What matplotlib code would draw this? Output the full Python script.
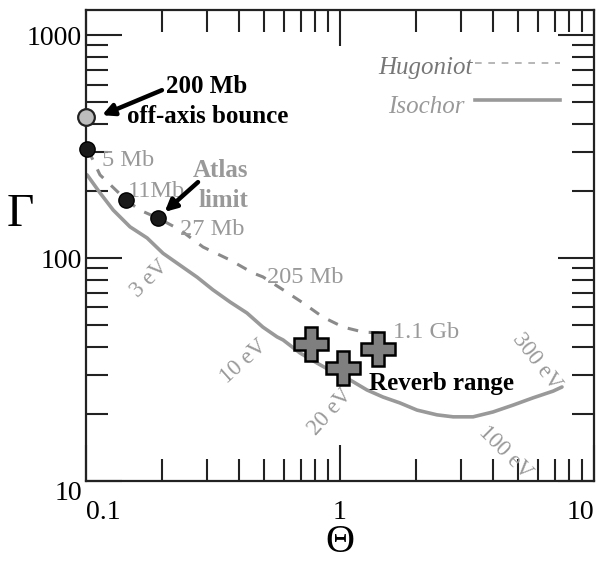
"""Gamma vs Theta plane: Hugoniot / Isochor curves with experiment markers."""

import matplotlib

matplotlib.use("Agg")

import matplotlib.pyplot as plt
from matplotlib.ticker import LogLocator, NullFormatter, FixedLocator, FixedFormatter

# ---------------------------------------------------------------------------
# Data
# ---------------------------------------------------------------------------

isochor_theta = [0.101, 0.1135, 0.128, 0.149, 0.174, 0.201, 0.234, 0.274, 0.316,
                 0.369, 0.430, 0.497, 0.565, 0.597, 0.696, 0.812, 0.939, 1.095,
                 1.277, 1.477, 1.72, 2.01, 2.41, 2.79, 3.34, 4.0, 4.8, 5.75,
                 6.9, 7.48]
isochor_gamma = [236, 196, 164, 138, 123, 105, 93, 82, 72, 63.5, 56.7, 49, 44.3,
                 42.9, 37.5, 33.8, 30.8, 28.4, 25.6, 23.8, 22.4, 20.8, 19.8,
                 19.4, 19.4, 20.4, 21.9, 23.6, 25.3, 26.4]

hugoniot_theta = [0.102, 0.1135, 0.144, 0.163, 0.192, 0.234, 0.289, 0.369, 0.454,
                  0.497, 0.597, 0.715, 0.857, 1.03, 1.23, 1.44]
hugoniot_gamma = [305, 236, 182, 164, 151, 134, 112, 98, 85.7, 82.3, 72, 62.9,
                  54.3, 49, 46.6, 46.1]

# black dots on the Hugoniot (5 Mb, 11 Mb, 27 Mb)
dot_theta = [0.101, 0.144, 0.192]
dot_gamma = [308, 182, 151]

# 200 Mb off-axis bounce
bounce_theta = [0.1]
bounce_gamma = [429]

# Reverb range crosses
reverb_theta = [0.769, 1.03, 1.41]
reverb_gamma = [41.1, 32.1, 39.1]

# pressure labels along the Hugoniot
hug_labels = ["5 Mb", "11Mb", "27 Mb", "205 Mb", "1.1 Gb"]
hug_label_theta = [0.1156, 0.146, 0.234, 0.516, 1.617]
hug_label_gamma = [275, 198, 134, 82.2, 46.5]

# temperature labels along the Isochor
iso_labels = ["3 eV", "10 eV", "20 eV", "300 eV", "100 eV"]
iso_label_theta = [0.178, 0.419, 0.913, 5.97, 4.46]
iso_label_gamma = [81, 34.2, 20.4, 34.2, 13.4]
iso_label_rot = [45, 42, 48, -52, -45]

GRAY = "#999999"
SERIF = "Liberation Serif"

plt.rcParams["font.family"] = [SERIF, "DejaVu Serif"]

fig = plt.figure(figsize=(5.99, 5.62), dpi=100)
ax = fig.add_axes([0.1436, 0.1441, 0.8481, 0.8381])

ax.set_xscale("log")
ax.set_yscale("log")
ax.set_xlim(0.1, 10)
ax.set_ylim(10, 1295)

# curves
ax.plot(isochor_theta, isochor_gamma, color=GRAY, linewidth=2.6,
        solid_capstyle="round", zorder=2)
ax.plot(hugoniot_theta, hugoniot_gamma, color="#8a8a8a", linewidth=2.2,
        linestyle=(0, (3.5, 3.5)), zorder=2)

# markers
ax.plot(dot_theta, dot_gamma, "o", markersize=11, markerfacecolor="#1a1a1a",
        markeredgecolor="black", clip_on=False, zorder=4)
ax.plot(bounce_theta, bounce_gamma, "o", markersize=12,
        markerfacecolor="#bdbdbd", markeredgecolor="#222222",
        markeredgewidth=1.6, clip_on=False, zorder=4)
ax.plot(reverb_theta, reverb_gamma, "P", markersize=24,
        markerfacecolor="#7f7f7f", markeredgecolor="black",
        markeredgewidth=1.8, zorder=5)

# arrows
arrow_kw = dict(arrowstyle="-|>,head_length=0.7,head_width=0.35",
                color="black", lw=3.2, shrinkA=0, shrinkB=0)
ax.annotate("", xy=(0.1156, 437), xytext=(0.199, 566), arrowprops=arrow_kw,
            zorder=6)
ax.annotate("", xy=(0.204, 161), xytext=(0.276, 219), arrowprops=arrow_kw,
            zorder=6)

# labels in black bold
ax.text(0.299, 585, "200 Mb", fontsize=18, fontweight="bold", ha="center",
        va="center")
ax.text(0.302, 429, "off-axis bounce", fontsize=18, fontweight="bold",
        ha="center", va="center")
ax.text(2.52, 27.5, "Reverb range", fontsize=18, fontweight="bold",
        ha="center", va="center", zorder=6)

# gray bold
ax.text(0.337, 248, "Atlas", fontsize=18, fontweight="bold", color=GRAY,
        ha="center", va="center")
ax.text(0.346, 182, "limit", fontsize=18, fontweight="bold", color=GRAY,
        ha="center", va="center")

for txt, th, ga in zip(hug_labels, hug_label_theta, hug_label_gamma):
    ax.text(th, ga, txt, fontsize=17.5, color=GRAY, ha="left", va="center")

for txt, th, ga, rot in zip(iso_labels, iso_label_theta, iso_label_gamma,
                            iso_label_rot):
    ax.text(th, ga, txt, fontsize=16.5, color=GRAY, rotation=rot,
            ha="center", va="center", rotation_mode="anchor")

# legend drawn by hand
ax.text(0.762, 0.877, "Hugoniot", transform=ax.transAxes, fontsize=18,
        style="italic", color="#777777", ha="right", va="center")
ax.plot([0.766, 0.933], [0.8875, 0.8875], transform=ax.transAxes,
        color="#aaaaaa", linewidth=1.2, linestyle=(0, (4, 4)))
ax.text(0.745, 0.794, "Isochor", transform=ax.transAxes, fontsize=18,
        style="italic", color=GRAY, ha="right", va="center")
ax.plot([0.766, 0.933], [0.809, 0.809], transform=ax.transAxes,
        color=GRAY, linewidth=2.6)

# axes styling
for sp in ax.spines.values():
    sp.set_linewidth(1.6)
    sp.set_color("#222222")

ax.tick_params(which="both", direction="in", top=True, right=True,
               width=1.5, color="#222222", labelsize=20)
ax.tick_params(which="major", length=26)
ax.tick_params(which="minor", length=16)
ax.tick_params(axis="x", pad=14)
ax.tick_params(axis="y", pad=3)
ax.xaxis.set_major_locator(FixedLocator([0.1, 1, 10]))
ax.xaxis.set_major_formatter(FixedFormatter(["0.1", "1", "10"]))
ax.yaxis.set_major_locator(FixedLocator([10, 100, 1000]))
ax.yaxis.set_major_formatter(FixedFormatter(["10", "100", "1000"]))
ax.xaxis.set_minor_locator(LogLocator(base=10, subs=range(2, 10)))
ax.yaxis.set_minor_locator(LogLocator(base=10, subs=range(2, 10)))
ax.xaxis.set_minor_formatter(NullFormatter())
ax.yaxis.set_minor_formatter(NullFormatter())

xlabels = ax.get_xticklabels()
xlabels[0].set_ha("left")
xlabels[-1].set_ha("right")
ax.get_yticklabels()[0].set_va("top")

ax.set_xlabel("\u0398", fontsize=29, va="bottom")
ax.xaxis.set_label_coords(0.5, -0.17)
ax.set_ylabel("\u0393", fontsize=34, rotation=0, va="center")
ax.yaxis.set_label_coords(-0.13, 0.565)

fig.savefig("out.png", dpi=100)
